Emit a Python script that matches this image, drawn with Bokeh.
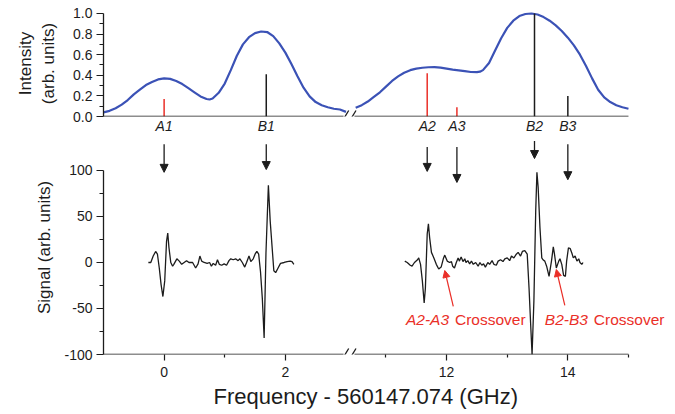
from bokeh.plotting import figure
from bokeh.layouts import column
from bokeh.models import (FixedTicker, Arrow, NormalHead, ColumnDataSource, Range1d,
                          PrintfTickFormatter, Label, Title)
from bokeh.embed import file_html
from bokeh.resources import INLINE

# ---------------- data ----------------
# top panel: intensity (two frequency windows)
int_left_x = [-1.0, -0.9, -0.8, -0.7, -0.6, -0.5, -0.4, -0.3, -0.2, -0.1, 0.0, 0.1, 0.2, 0.3, 0.4,
              0.5, 0.6, 0.7, 0.75, 0.8, 0.9, 1.0, 1.1, 1.2, 1.3, 1.4, 1.5, 1.6, 1.7, 1.8, 1.9,
              2.0, 2.1, 2.2, 2.3, 2.4, 2.5, 2.6, 2.7, 2.8, 2.9, 3.0]
int_left_y = [0.04, 0.055, 0.08, 0.115, 0.16, 0.215, 0.26, 0.305, 0.335, 0.36, 0.37, 0.365, 0.345,
              0.315, 0.275, 0.235, 0.195, 0.17, 0.165, 0.175, 0.23, 0.32, 0.45, 0.59, 0.70, 0.77,
              0.81, 0.825, 0.82, 0.78, 0.71, 0.62, 0.51, 0.39, 0.28, 0.195, 0.14, 0.11, 0.09,
              0.075, 0.068, 0.045]
int_right_x = [10.5, 10.6, 10.7, 10.8, 10.9, 11.0, 11.1, 11.2, 11.3, 11.4, 11.5, 11.6, 11.7, 11.8,
               11.9, 12.0, 12.1, 12.2, 12.3, 12.4, 12.5, 12.55, 12.6, 12.7, 12.8, 12.9, 13.0, 13.1,
               13.2, 13.3, 13.4, 13.5, 13.6, 13.7, 13.8, 13.9, 14.0, 14.1, 14.2, 14.3, 14.4, 14.5,
               14.6, 14.7, 14.8, 14.9, 15.0]
int_right_y = [0.084, 0.11, 0.145, 0.19, 0.235, 0.29, 0.345, 0.39, 0.425, 0.45, 0.465, 0.473, 0.478,
               0.48, 0.475, 0.465, 0.455, 0.448, 0.44, 0.432, 0.43, 0.435, 0.45, 0.52, 0.64, 0.76,
               0.86, 0.93, 0.975, 0.995, 1.0, 0.99, 0.965, 0.93, 0.885, 0.83, 0.765, 0.69, 0.6,
               0.49, 0.37, 0.26, 0.185, 0.14, 0.11, 0.09, 0.075]

# stick spectrum / line assignments
peak_labels = ["A1", "B1", "A2", "A3", "B2", "B3"]
peak_freq = [0.0, 1.685, 11.68, 12.17, 13.45, 14.0]
peak_intensity = [0.17, 0.41, 0.42, 0.09, 1.0, 0.2]
arrow_top = [128.5, 128.5, 125.5, 125.5, 132.0, 128.5]
arrow_tip = [98.0, 101.0, 99.0, 87.0, 113.0, 90.0]

# bottom panel: signal
sig_left_x = [-0.26, -0.22, -0.18, -0.14, -0.11, -0.08, -0.05, -0.02, 0.01, 0.04, 0.06, 0.08, 0.11,
              0.14, 0.16, 0.21, 0.25, 0.29, 0.33, 0.37, 0.41, 0.47, 0.52, 0.56, 0.59, 0.62, 0.66,
              0.71, 0.75, 0.78, 0.81, 0.85, 0.88, 0.91, 0.95, 0.99, 1.03, 1.07, 1.10, 1.14, 1.18,
              1.22, 1.25, 1.29, 1.33, 1.36, 1.40, 1.43, 1.47, 1.50, 1.53, 1.56, 1.59, 1.62, 1.65,
              1.68, 1.72, 1.75, 1.79, 1.81, 1.84, 1.88, 1.92, 1.98, 2.03, 2.08, 2.11, 2.14]
sig_left_y = [0, 0, 7, 12, 9, -6, -24, -37, -20, 23, 32, 16, 0, -4, -2, 4, 1.5, -2, 0, 2, 0, 0, -6,
              -1.5, 7, 1.5, 0, -1, 0, -4, -1, -3, 3, -2, -3, -1.5, -3, 2, 4, 3, 4, 2, 4, 0, -5, 0,
              7, 1, 4, 9, 12, 9, -10, -39, -82, 10, 84, 45, 9, -9, -11, -6, -1, 0, 1, 1.5, 1, -2]
sig_right_x = [11.31, 11.35, 11.40, 11.43, 11.47, 11.52, 11.54, 11.57, 11.60, 11.63, 11.65, 11.68,
               11.70, 11.72, 11.75, 11.79, 11.83, 11.87, 11.91, 11.95, 11.97, 12.01, 12.05, 12.08,
               12.10, 12.13, 12.16, 12.19, 12.21, 12.24, 12.27, 12.30, 12.32, 12.35, 12.38, 12.41,
               12.44, 12.48, 12.52, 12.55, 12.58, 12.61, 12.64, 12.68, 12.71, 12.75, 12.78, 12.82,
               12.85, 12.89, 12.93, 12.96, 13.00, 13.04, 13.07, 13.11, 13.15, 13.18, 13.22, 13.25,
               13.29, 13.33, 13.36, 13.39, 13.41, 13.44, 13.47, 13.49, 13.51, 13.54, 13.57, 13.59,
               13.62, 13.65, 13.69, 13.73, 13.76, 13.78, 13.81, 13.85, 13.87, 13.90, 13.93, 13.96,
               13.98, 14.01, 14.04, 14.07, 14.09, 14.12, 14.15, 14.18, 14.20, 14.23, 14.25]
sig_right_y = [1.5, 0, -3, -4, 0, 3, 5, -2, -20, -44, -28, 31, 42, 27, 11, 5, -2, -7, -5, 5, 8, 1.5,
               0, 1, -4, -6, 0, 5, 1.5, 6, 1, 4, 0, 2, -1.5, 1.5, -2, 0, -4, 0, -3, -1.5, -5, 0, -2,
               2, -2, -3, 1.5, 3, 1, 4, 5, 2, 7, 5, 9, 11, 7, 12, 13, 9, -28, -72, -100, -42, 56,
               98, 82, 38, 5, 3, 1.5, -4, -15, 1.5, 17, 9, -6, 1.5, 4, -2, -14, -15, 1.5, 16, 15,
               9.5, 5, 7, 1.5, 4, 0, -2, 0]

# crossover annotations
cross_labels = ["A2-A3", "B2-B3"]
cross_text_x = [11.33, 13.62]
cross_text_y = [-62.0, -62.0]
cross_tail_x = [12.11, 13.95]
cross_tail_y = [-47.8, -46.7]
cross_tip_x = [11.97, 13.81]
cross_tip_y = [-8.7, -7.6]

bottom_major = [0, 2, 12, 14]
bottom_minor = [1, 11, 13, 15]

# ---------------- helpers / style ----------------
SHIFT = 7.34          # width of the removed frequency interval (broken axis)
BRK_L, BRK_R = 2.96, 3.14
X_END = 15 - SHIFT    # where the drawn axis ends


def disp(v):
    return round(v - SHIFT, 4) if v > 6 else v


FONT = "Liberation Sans"
BLUE = "#3b52b6"
RED = "#ea2f28"
INK = "#1c1c1c"
W, LEFT, RIGHT = 675, 103, 0
# frame runs to the right page edge so the "B2-B3 Crossover" text is not clipped
xr = Range1d(-1.0, 8.436)


def style_axes(p):
    p.outline_line_color = None
    p.grid.visible = False
    for ax in p.axis:
        ax.axis_line_color = INK
        ax.axis_line_width = 1.3
        ax.major_tick_line_color = INK
        ax.minor_tick_line_color = INK
        ax.major_tick_line_width = 1.2
        ax.minor_tick_line_width = 1.2
        ax.major_label_text_font = FONT
        ax.major_label_text_font_size = "14px"
        ax.major_label_text_color = INK
        ax.axis_label_text_font = FONT
        ax.axis_label_text_font_style = "normal"
        ax.axis_label_text_color = INK


def broken_axis(p, y0, dy, dx=0.06):
    # axis line with a gap and the "//" break mark
    p.xaxis.axis_line_color = None
    for xs, xe in [(-1.0, BRK_L), (BRK_R, X_END)]:
        p.add_layout(Arrow(end=None, x_start=xs, y_start=y0, x_end=xe, y_end=y0,
                           line_color=INK, line_width=1.3))
    for c in [2.985, 3.105]:
        p.add_layout(Arrow(end=None, x_start=c - dx, y_start=y0 - dy, x_end=c + dx, y_end=y0 + dy,
                           line_color=INK, line_width=1.3))


# ---------------- top panel ----------------
p1 = figure(width=W, height=140, x_range=xr, y_range=Range1d(0, 1.029),
            output_backend="svg", toolbar_location=None,
            min_border_left=LEFT, min_border_right=RIGHT, min_border_top=10, min_border_bottom=24)
style_axes(p1)
p1.line([disp(v) for v in int_left_x], int_left_y, line_color=BLUE, line_width=2.2)
p1.line([disp(v) for v in int_right_x], int_right_y, line_color=BLUE, line_width=2.2)
p1.segment(x0=[disp(v) for v in peak_freq], y0=0, x1=[disp(v) for v in peak_freq], y1=peak_intensity,
           line_color=[RED if l.startswith("A") else INK for l in peak_labels], line_width=1.5)

ya = p1.yaxis[0]
ya.ticker = FixedTicker(ticks=[0, 0.2, 0.4, 0.6, 0.8, 1.0], minor_ticks=[0.1, 0.3, 0.5, 0.7, 0.9])
ya.formatter = PrintfTickFormatter(format="%.1f")
ya.bounds = (0, 1)
ya.major_tick_out = 7
ya.major_tick_in = 0
ya.minor_tick_out = 4
ya.minor_tick_in = 0
ya.major_label_standoff = 4
ya.axis_label = "Intensity\n(arb. units)"
ya.axis_label_text_font_size = "17px"
ya.axis_label_standoff = 12

xa = p1.xaxis[0]
xa.ticker = FixedTicker(ticks=[disp(v) for v in peak_freq], minor_ticks=[])
xa.major_label_overrides = {disp(v): l for v, l in zip(peak_freq, peak_labels)}
xa.major_tick_out = 0
xa.major_tick_in = 0
xa.major_label_standoff = 1
xa.major_label_text_font_size = "14px"
xa.major_label_text_font_style = "italic"
broken_axis(p1, 0.0, 0.058)

# ---------------- bottom panel ----------------
p2 = figure(width=W, height=274, x_range=xr, y_range=Range1d(-100, 132.6),
            output_backend="svg", toolbar_location=None,
            min_border_left=LEFT, min_border_right=RIGHT, min_border_top=0, min_border_bottom=60)
style_axes(p2)
p2.line([disp(v) for v in sig_left_x], sig_left_y, line_color=INK, line_width=1.3)
p2.line([disp(v) for v in sig_right_x], sig_right_y, line_color=INK, line_width=1.3)

arr_src = ColumnDataSource(dict(xs=[disp(v) for v in peak_freq], ys=arrow_top,
                                xe=[disp(v) for v in peak_freq], ye=arrow_tip))
p2.add_layout(Arrow(end=NormalHead(size=8, fill_color=INK, line_color=INK, line_width=1),
                    source=arr_src, x_start="xs", y_start="ys", x_end="xe", y_end="ye",
                    line_color=INK, line_width=1.3))

cross_src = ColumnDataSource(dict(xs=[disp(v) for v in cross_tail_x], ys=cross_tail_y,
                                  xe=[disp(v) for v in cross_tip_x], ye=cross_tip_y))
p2.add_layout(Arrow(end=NormalHead(size=7, fill_color=RED, line_color=RED, line_width=1),
                    source=cross_src, x_start="xs", y_start="ys", x_end="xe", y_end="ye",
                    line_color=RED, line_width=1.2))
for lab, cx, cy in zip(cross_labels, cross_text_x, cross_text_y):
    p2.add_layout(Label(x=disp(cx), y=cy, text=lab, text_font=FONT, text_font_size="15.5px",
                        text_font_style="italic", text_color=RED, text_baseline="middle",
                        text_align="left"))
    p2.add_layout(Label(x=disp(cx), y=cy, text="Crossover", text_font=FONT,
                        text_font_size="15.5px", text_color=RED, text_baseline="middle",
                        text_align="left", x_offset=49))

yb = p2.yaxis[0]
yb.ticker = FixedTicker(ticks=[-100, -50, 0, 50, 100], minor_ticks=[-75, -25, 25, 75])
yb.formatter = PrintfTickFormatter(format="%d")
yb.bounds = (-100, 100)
yb.major_tick_out = 7
yb.major_tick_in = 0
yb.minor_tick_out = 4
yb.minor_tick_in = 0
yb.major_label_standoff = 4
yb.axis_label = "Signal (arb. units)"
yb.axis_label_text_font_size = "17px"
yb.axis_label_standoff = 7

xb = p2.xaxis[0]
xb.ticker = FixedTicker(ticks=[disp(v) for v in bottom_major],
                        minor_ticks=[disp(v) for v in bottom_minor])
xb.major_label_overrides = {disp(v): str(v) for v in bottom_major}
xb.major_tick_out = 6
xb.major_tick_in = 0
xb.minor_tick_out = 3
xb.minor_tick_in = 0
xb.major_label_standoff = 6
broken_axis(p2, -100.0, 6.5)

# x-axis title, positioned under the drawn (broken) axis rather than the wider frame
p2.add_layout(Title(text="Frequency - 560147.074 (GHz)", align="left", offset=110,
                    text_font=FONT, text_font_size="22px", text_font_style="normal",
                    text_color=INK, standoff=4), "below")

layout = column(p1, p2, spacing=0)
open("out.html", "w").write(file_html(layout, INLINE))
